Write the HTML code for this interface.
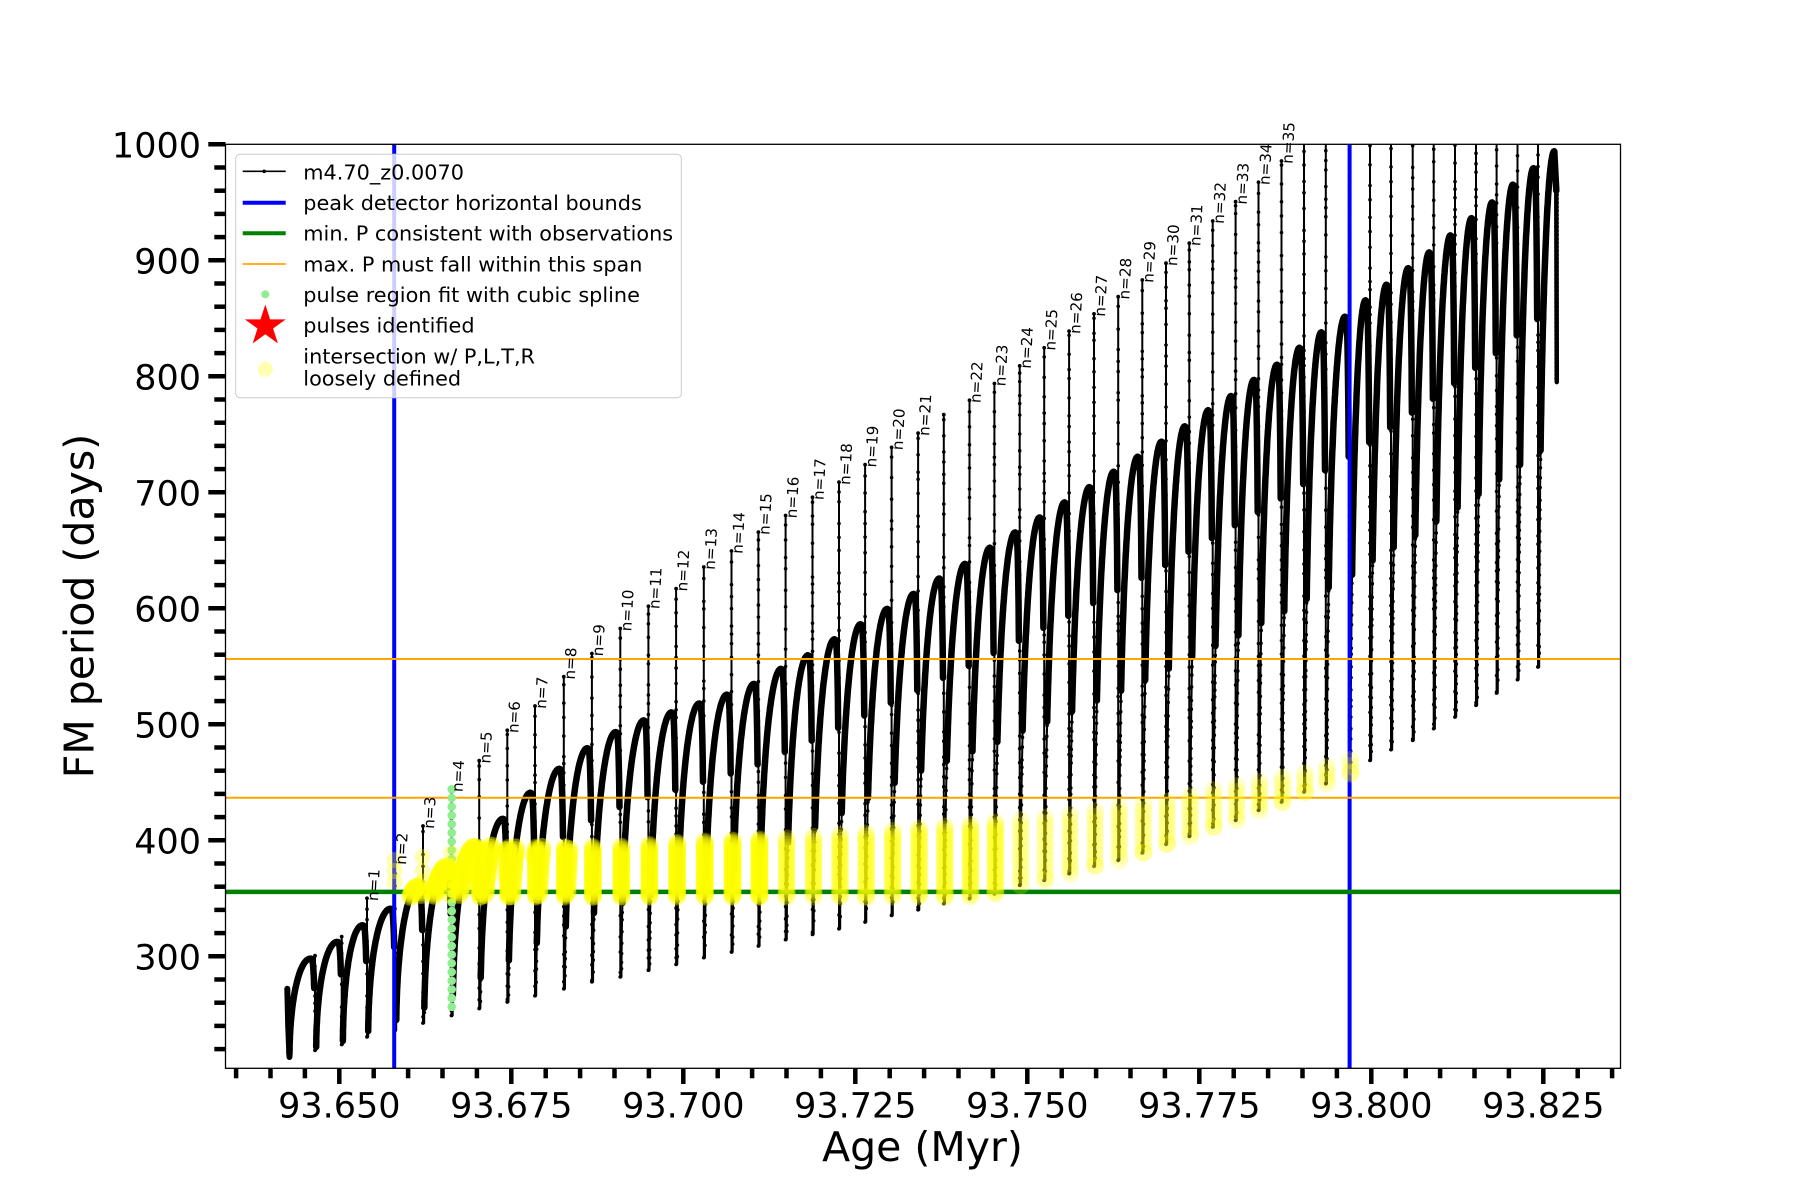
<!DOCTYPE html>
<html><head><meta charset="utf-8">
<style>
html,body{margin:0;padding:0;background:#fff;}
svg{display:block;}
text{font-family:"DejaVu Sans","Liberation Sans",sans-serif;fill:#000;}
</style></head>
<body>
<svg id="s" width="1800" height="1200" viewBox="0 0 1800 1200" xmlns="http://www.w3.org/2000/svg">
<defs><clipPath id="ax"><rect x="225.5" y="144.3" width="1395" height="924"/></clipPath></defs>
<rect width="1800" height="1200" fill="#fff"/>
<g id="data" clip-path="url(#ax)"></g>
<g id="lines" clip-path="url(#ax)">
<line x1="394.2" y1="140" x2="394.2" y2="1070" stroke="#0000ff" stroke-width="4"/>
<line x1="1349.6" y1="140" x2="1349.6" y2="1070" stroke="#0000ff" stroke-width="4"/>
<line x1="220" y1="891.9" x2="1625" y2="891.9" stroke="#008000" stroke-width="4.5"/>
<line x1="220" y1="659" x2="1625" y2="659" stroke="#ffa500" stroke-width="2"/>
<line x1="220" y1="797.8" x2="1625" y2="797.8" stroke="#ffa500" stroke-width="2"/>
</g>
<g id="green" clip-path="url(#ax)"></g>
<g id="yel" clip-path="url(#ax)"></g>
<g id="nlab" font-size="15.2">
<text transform="translate(378,901.3) rotate(-87)">n=1</text>
<text transform="translate(406,865) rotate(-87)">n=2</text>
<text transform="translate(434,829) rotate(-87)">n=3</text>
<text transform="translate(462.5,792.3) rotate(-87)">n=4</text>
<text transform="translate(490.2,763.7) rotate(-87)">n=5</text>
<text transform="translate(518.3,733.3) rotate(-87)">n=6</text>
<text transform="translate(546,709) rotate(-87)">n=7</text>
<text transform="translate(574.8,679.7) rotate(-87)">n=8</text>
<text transform="translate(602.9,656.5) rotate(-87)">n=9</text>
<text transform="translate(631.3,631.5) rotate(-87)">n=10</text>
<text transform="translate(659.4,609.3) rotate(-87)">n=11</text>
<text transform="translate(687.1,591.6) rotate(-87)">n=12</text>
<text transform="translate(714.8,570) rotate(-87)">n=13</text>
<text transform="translate(742.5,554) rotate(-87)">n=14</text>
<text transform="translate(769.4,535.1) rotate(-87)">n=15</text>
<text transform="translate(796.6,518.5) rotate(-87)">n=16</text>
<text transform="translate(823.5,500.3) rotate(-87)">n=17</text>
<text transform="translate(850,485.1) rotate(-87)">n=18</text>
<text transform="translate(876.1,467.6) rotate(-87)">n=19</text>
<text transform="translate(902.6,450.4) rotate(-87)">n=20</text>
<text transform="translate(929.1,436.1) rotate(-87)">n=21</text>
<text transform="translate(980.5,403.3) rotate(-87)">n=22</text>
<text transform="translate(1005.4,386.5) rotate(-87)">n=23</text>
<text transform="translate(1030.7,368.9) rotate(-87)">n=24</text>
<text transform="translate(1055.2,350.8) rotate(-87)">n=25</text>
<text transform="translate(1080.1,334.1) rotate(-87)">n=26</text>
<text transform="translate(1105,316.9) rotate(-87)">n=27</text>
<text transform="translate(1129.2,299.7) rotate(-87)">n=28</text>
<text transform="translate(1153.3,283) rotate(-87)">n=29</text>
<text transform="translate(1177,266.2) rotate(-87)">n=30</text>
<text transform="translate(1200.3,246.2) rotate(-87)">n=31</text>
<text transform="translate(1223.7,224) rotate(-87)">n=32</text>
<text transform="translate(1246.6,204.7) rotate(-87)">n=33</text>
<text transform="translate(1269.5,185.3) rotate(-87)">n=34</text>
<text transform="translate(1292.5,164) rotate(-87)">n=35</text>
</g>
<rect x="225.5" y="144.3" width="1395" height="924" fill="none" stroke="#000" stroke-width="1.3"/>
<g id="ticks"></g>
<g font-size="35" text-anchor="end">
<text x="201" y="969.3">300</text>
<text x="201" y="853.3">400</text>
<text x="201" y="737.3">500</text>
<text x="201" y="621.3">600</text>
<text x="201" y="505.3">700</text>
<text x="201" y="389.3">800</text>
<text x="201" y="273.3">900</text>
<text x="201" y="157.3">1000</text>
</g>
<g font-size="35" text-anchor="middle">
<text x="339.3" y="1117.3">93.650</text>
<text x="511.3" y="1117.3">93.675</text>
<text x="683.3" y="1117.3">93.700</text>
<text x="855.3" y="1117.3">93.725</text>
<text x="1027.3" y="1117.3">93.750</text>
<text x="1199.3" y="1117.3">93.775</text>
<text x="1371.3" y="1117.3">93.800</text>
<text x="1543.3" y="1117.3">93.825</text>
</g>
<text x="922.5" y="1161" font-size="41" text-anchor="middle">Age (Myr)</text>
<text transform="translate(93.5,606) rotate(-90)" font-size="41" text-anchor="middle">FM period (days)</text>
<!-- legend -->
<rect x="235.7" y="154.3" width="445.6" height="243.4" rx="4" ry="4" fill="#fff" fill-opacity="0.8" stroke="#cccccc" stroke-width="1"/>
<line x1="242.7" y1="171.3" x2="285.7" y2="171.3" stroke="#000" stroke-width="1.6"/>
<circle cx="264.2" cy="171.3" r="1.8" fill="#000"/>
<line x1="242.7" y1="202.7" x2="285.7" y2="202.7" stroke="#0000ff" stroke-width="4"/>
<line x1="242.7" y1="233.3" x2="285.7" y2="233.3" stroke="#008000" stroke-width="4"/>
<line x1="242.7" y1="264" x2="285.7" y2="264" stroke="#ffa500" stroke-width="1.8"/>
<circle cx="265.3" cy="294.3" r="4" fill="#90ee90"/>
<polygon id="star" fill="#ff0000" points=""/>
<circle cx="265.3" cy="369.3" r="7.5" fill="#ffff00" fill-opacity="0.3"/>
<g font-size="20.8">
<text x="303.3" y="179.3">m4.70_z0.0070</text>
<text x="303.3" y="210">peak detector horizontal bounds</text>
<text x="303.3" y="240.7">min. P consistent with observations</text>
<text x="303.3" y="271.3">max. P must fall within this span</text>
<text x="303.3" y="302">pulse region fit with cubic spline</text>
<text x="303.3" y="332.7">pulses identified</text>
<text x="303.3" y="363.3">intersection w/ P,L,T,R</text>
<text x="303.3" y="385.5">loosely defined</text>
</g>
</svg>
<script>
(function(){
const Y=v=>144.3+(1000-v)*1.16;
const f=n=>n.toFixed(1);
(function(){
  const cx=265.3,cy=326,R=21.5,r=R*0.382;let p=[];
  for(let k=0;k<10;k++){const a=-Math.PI/2+k*Math.PI/5;const rr=k%2?r:R;p.push(f(cx+rr*Math.cos(a))+','+f(cy+rr*Math.sin(a)));}
  document.getElementById('star').setAttribute('points',p.join(' '));
})();
(function(){
  let t=[];
  for(let j=-3;j<=37;j++){
    const x=339.3+j*34.4; const maj=(j%5===0);
    t.push(`<line x1="${f(x)}" y1="1068.3" x2="${f(x)}" y2="${maj?1084:1078.3}" stroke="#000" stroke-width="4.5"/>`);
  }
  for(let v=220;v<=1000;v+=20){
    const y=Y(v); const maj=(v%100===0);
    t.push(`<line x1="${maj?208.3:214.3}" y1="${f(y)}" x2="225.5" y2="${f(y)}" stroke="#000" stroke-width="4.5"/>`);
  }
  document.getElementById('ticks').innerHTML=t.join('');
})();
const C=[[315,298,300.5,219],[341.7,312.4,317,224],[367,326.7,350,230.5],[395,341,381,236],[423,359.8,412.3,242.5],[451.5,377,444,249],[479.2,394,468.6,255],[507.3,418.5,494.8,260.6],[535,441,515.8,266],[563.8,461.6,541,272],[591.9,479.4,561,278],[620.3,493.3,582.6,282.2],[648.4,503.4,601.7,288],[676.1,510.3,617,293],[703.8,517.9,635.6,298.9],[731.5,525.6,649.4,303.7],[758.4,534.8,665.7,308.9],[785.6,547.8,680,314.4],[812.5,559.5,695.7,318.9],[839,573.3,708.8,323.8],[865.1,586.3,723.9,329.6],[891.6,599.5,738.7,335.3],[918.1,612.4,751,340.2],[943.8,625.7,767,345.4],[969.5,638.3,779.3,349.7],[994.4,652.2,793.8,354],[1019.7,665.4,809,361.2],[1044.2,678.3,824.6,365.5],[1069.1,691.3,839,371.3],[1094,704.5,853.8,377.6],[1118.2,717.7,868.6,382.8],[1142.3,730.7,883,389.1],[1166,743.6,897.5,396.6],[1189.3,756.9,914.7,403.4],[1212.7,770.7,933.9,411.5],[1235.6,783,950.5,417.2],[1258.5,796.9,967.2,425.9],[1281.5,810,985.6,433],[1304,824.6,1060,441.6],[1325.8,837.9,1060,448.9],[1349.5,851.4,1060,457.5],[1370,865.5,1060,468.9],[1391,879,1060,478.2],[1412.7,893.2,1060,486.2],[1433.7,906.8,1060,496.3],[1455,921.5,1060,506.3],[1476,936.3,1060,516.4],[1496.6,949.9,1060,527],[1517.5,965.3,1060,538.5],[1538,979.4,1060,549.4]];
let seed=12345;function rnd(){seed=(seed*16807)%2147483647;return seed/2147483647;}
let out=[];
function P(pts,w){out.push(`<polyline points="${pts.map(p=>f(p[0])+','+f(p[1])).join(' ')}" fill="none" stroke="#000" stroke-width="${w}" stroke-linejoin="round" stroke-linecap="round"/>`);}
function dot(x,y,r){out.push(`<circle cx="${f(x)}" cy="${f(y)}" r="${r}" fill="#000"/>`);}
function dotsPolyline(pts,minS,maxS,r){
  let next=minS+rnd()*(maxS-minS),travelled=0;
  for(let k=1;k<pts.length;k++){
    const x0=pts[k-1][0],y0=pts[k-1][1],dx=pts[k][0]-x0,dy=pts[k][1]-y0;const L=Math.hypot(dx,dy);
    let pos=0;
    while(travelled+(L-pos)>=next){
      const step=next-travelled; pos+=step;
      dot(x0+dx*pos/L,y0+dy*pos/L,r);
      travelled=0; next=minS+rnd()*(maxS-minS);
    }
    travelled+=L-pos;
  }
}
const arcPts=[];
P([[287.3,Y(272)],[288.2,Y(240)],[289.5,Y(213.2)]],6);
for(let i=0;i<=C.length;i++){
  let Xs,m,T,Xe,Xt;
  if(i===0){Xs=289.5;m=213.2;}else{Xs=C[i-1][0]+1.2;m=C[i-1][3];}
  if(i<C.length){T=C[i][1];Xe=C[i][0];Xt=Xe-4.5;}else{T=994;Xe=1556.5;Xt=1554.3;}
  const amp=T-m;
  const thr=Math.min(0.42,Math.max(0.03,(amp-90)*0.0022));
  const thT=Math.asin(thr);
  let thin=[],thick=[],all=[];
  const N1=20,N2=70;
  for(let k=0;k<=N1;k++){const th=thT*k/N1;const x=Xs+(Xt-Xs)*(1-Math.cos(th));const v=m+amp*Math.sin(th);thin.push([x,Y(v)]);all.push([x,v]);}
  for(let k=0;k<=N2;k++){const th=thT+(Math.PI/2-thT)*k/N2;const x=Xs+(Xt-Xs)*(1-Math.cos(th));const v=m+amp*Math.sin(th);thick.push([x,Y(v)]);all.push([x,v]);}
  if(i<C.length){
    const d=Math.min(0.3*amp,130);
    for(let k=1;k<=12;k++){const u=k/12;const x=Xt+(Xe-0.8-Xt)*Math.sqrt(u);const v=T-d*u*u;thick.push([x,Y(v)]);all.push([x,v]);}
  } else {
    thick.push([1556.3,Y(960)]);
  }
  P(thin,2);
  dotsPolyline(thin,6,14,1.8);
  P(thick,6.5);
  arcPts.push(all);
  if(i<C.length){
    const x=Xe,yTop=Y(C[i][2]),yBot=Y(C[i][3]);
    out.push(`<line x1="${f(x)}" y1="${f(yTop)}" x2="${f(x)}" y2="${f(yBot)}" stroke="#000" stroke-width="2"/>`);
    dot(x,yTop,1.9);
    let y=yTop+4+rnd()*8;
    while(y<yBot){dot(x,y,1.8);y+=7+rnd()*16;}
    dot(x,yBot,1.9);
  } else {
    const seg=[[1556.3,Y(960)],[1556.8,Y(795)]];
    P(seg,4.5);
    for(let y=Y(960);y<=Y(795);y+=4)dot(1556.6,y,2.3);
  }
}
document.getElementById('data').innerHTML=out.join('');
(function(){
  let g=[];
  for(let y=Y(444);y<=Y(250)+0.5;y+=8.7){g.push(`<circle cx="451.7" cy="${f(y)}" r="4.3" fill="#90ee90"/>`);}
  document.getElementById('green').innerHTML=g.join('');
})();
(function(){
  let yv=[];
  function cir(x,y,r,a){yv.push(`<circle cx="${f(x)}" cy="${f(y)}" r="${r}" fill="#ffff00" fill-opacity="${a}"/>`);}
  [[394.5,[364.3,373.5,383]],[422.5,[364.3,373.5,385.6]],[451.2,[366,378,389]]].forEach(q=>{q[1].forEach(v=>cir(q[0],Y(v),8,0.3));});
  for(let i=4;i<=10;i++){
    const pts=arcPts[i];
    let lastY=-1e9,lastX=-1e9;
    for(const p of pts){
      if(p[1]>=351.5&&p[1]<=395){
        const yy=Y(p[1]);
        if(Math.hypot(p[0]-lastX,yy-lastY)>=1.2){cir(p[0],yy,9.5,0.45);lastX=p[0];lastY=yy;}
      }
    }
  }
  const H=[[470,393],[623,394.5],[678,397.9],[787.5,401.7],[868,406],[920,410.3],[971,413.2],[1021,417.5],[1070,421.8],[1120,428.9],[1167.5,433.3],[1214,443.4],[1260.6,450.5],[1305.6,457.8],[1350,469.2]];
  function hiAt(X){if(X<=H[0][0])return H[0][1];for(let k=1;k<H.length;k++){if(X<=H[k][0]){const t=(X-H[k-1][0])/(H[k][0]-H[k-1][0]);return H[k-1][1]+t*(H[k][1]-H[k-1][1]);}}return H[H.length-1][1];}
  for(let i=6;i<C.length;i++){
    const X=C[i][0]; if(X>1351)break;
    const lo=Math.max(351.5,C[i][3]); const hi=hiAt(X);
    let sp,a;
    if(X<760){sp=1.5;a=0.32;}else if(X<1000){sp=3;a=0.26;}else{sp=6;a=0.22;}
    const y0=Y(hi),y1=Y(lo);
    for(let y=y0;y<=y1+0.01;y+=sp)cir(X+1,y,9,a);
    cir(X+1,y1,9,a);
  }
  document.getElementById('yel').innerHTML=yv.join('');
})();
})();
</script>
</body></html>
